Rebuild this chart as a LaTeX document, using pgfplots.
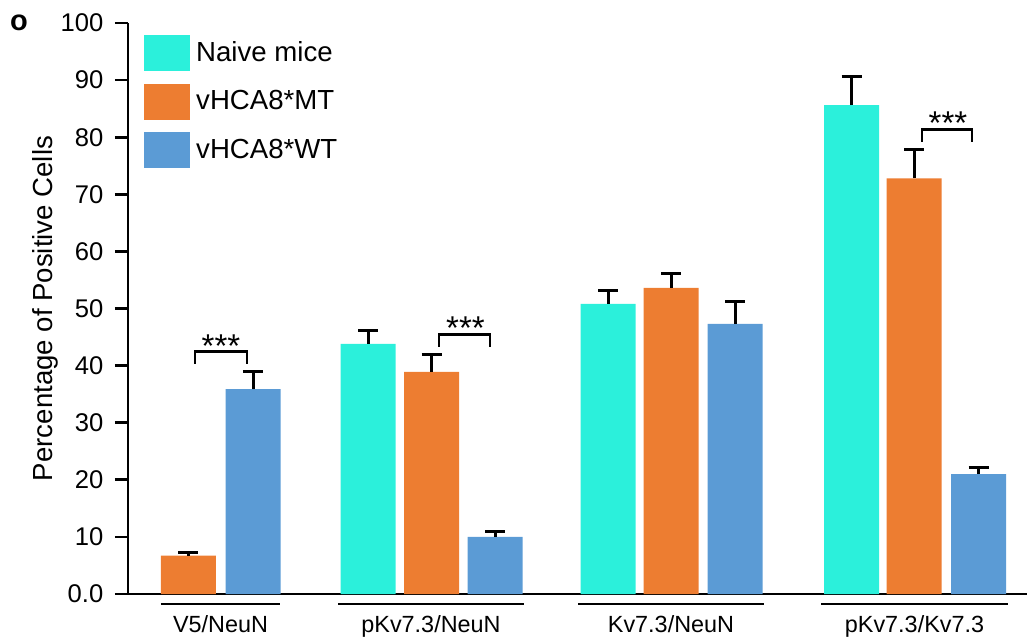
\documentclass[border=0pt]{standalone}
\usepackage{pgfplots}
\pgfplotsset{compat=1.18}
\usepackage{fontspec}
\setmainfont{Liberation Sans}
\definecolor{cNaive}{RGB}{43,240,219}
\definecolor{cMT}{RGB}{237,125,49}
\definecolor{cWT}{RGB}{91,155,213}
\pgfplotsset{mybar/.style={ybar, bar width=55, bar shift=0pt, draw=none,
    error bars/y dir=plus, error bars/y explicit,
    error bars/error bar style={line width=1.5pt, black},
    error bars/error mark options={rotate=90, mark size=5pt, line width=1.5pt, black}}}
\begin{document}
\begin{tikzpicture}
\useasboundingbox (-64pt,-21.5pt) rectangle (449.5pt,297pt);
\begin{axis}[
  scale only axis,
  width=449.5pt, height=285.5pt,
  xmin=128, xmax=1027, ymin=0, ymax=100,
  axis lines*=left,
  axis line style={line width=1.4pt},
  clip=false,
  tick align=outside,
  major tick length=6.5pt,
  ytick={0,10,...,100},
  yticklabels={0.0,10,20,30,40,50,60,70,80,90,100},
  ytick style={line width=1.4pt, black},
  yticklabel style={font=\fontsize{12.8}{14}\selectfont, xshift=-2.3pt},
  xtick={220.5,431,671,914.5},
  xticklabels={V5/NeuN,pKv7.3/NeuN,Kv7.3/NeuN,pKv7.3/Kv7.3},
  xtick style={draw=none},
  xticklabel style={font=\fontsize{11.7}{13}\selectfont, anchor=base, yshift=-12.5pt},
  ylabel={Percentage of Positive Cells},
  ylabel style={at={(axis description cs:-0.0774,0.5)}, anchor=south, inner sep=0pt, font=\fontsize{13.8}{15}\selectfont},
  legend style={at={(axis description cs:0.0178,0.979)}, anchor=north west, draw=none, fill=none, inner sep=0pt, row sep=6.25pt, column sep=3pt, nodes={inner sep=0pt}, font=\fontsize{13.8}{15}\selectfont},
  legend cell align=left,
  /pgf/number format/assume math mode=true,
]
\addplot[mybar, fill=cNaive, forget plot] coordinates {(368,43.8) +- (0,2.3) (608,50.8) +- (0,2.4) (851.5,85.6) +- (0,5.1)};
\addplot[mybar, fill=cMT, forget plot] coordinates {(188.5,6.7) +- (0,0.5) (431.5,38.9) +- (0,3.0) (671,53.6) +- (0,2.6) (914,72.8) +- (0,5.1)};
\addplot[mybar, fill=cWT, forget plot] coordinates {(253,35.9) +- (0,3.0) (495,10.0) +- (0,0.9) (735,47.3) +- (0,4.0) (978.5,21.0) +- (0,1.1)};
\addlegendimage{legend image code/.code={\fill[cNaive] (0pt,-8.75pt) rectangle (22.5pt,8.75pt);}}
\addlegendentry{Naive mice}
\addlegendimage{legend image code/.code={\fill[cMT] (0pt,-8.75pt) rectangle (22.5pt,8.75pt);}}
\addlegendentry{vHCA8*MT}
\addlegendimage{legend image code/.code={\fill[cWT] (0pt,-8.75pt) rectangle (22.5pt,8.75pt);}}
\addlegendentry{vHCA8*WT}
% significance brackets
\draw[line width=1.4pt] (axis cs:195,40.3) -- (axis cs:195,42.4) -- (axis cs:247,42.4) -- (axis cs:247,40.3);
\draw[line width=1.4pt] (axis cs:439,43.3) -- (axis cs:439,45.4) -- (axis cs:490,45.4) -- (axis cs:490,43.3);
\draw[line width=1.4pt] (axis cs:922,79.2) -- (axis cs:922,81.3) -- (axis cs:972,81.3) -- (axis cs:972,79.2);
\node[anchor=base, inner sep=0pt, font=\fontsize{16.5}{18}\selectfont] at (axis cs:221,41.5) {***};
\node[anchor=base, inner sep=0pt, font=\fontsize{16.5}{18}\selectfont] at (axis cs:465.5,44.6) {***};
\node[anchor=base, inner sep=0pt, font=\fontsize{16.5}{18}\selectfont] at (axis cs:948,80.5) {***};
% group underlines
\draw[line width=1pt] (axis cs:161,-1.8) -- (axis cs:280,-1.8);
\draw[line width=1pt] (axis cs:338,-1.8) -- (axis cs:524,-1.8);
\draw[line width=1pt] (axis cs:578,-1.8) -- (axis cs:764,-1.8);
\draw[line width=1pt] (axis cs:821,-1.8) -- (axis cs:1008,-1.8);
% panel label
\node[inner sep=0pt, font=\fontsize{14.5}{16}\selectfont\bfseries] at (axis cs:19,100.1) {o};
\end{axis}
\end{tikzpicture}
\end{document}
